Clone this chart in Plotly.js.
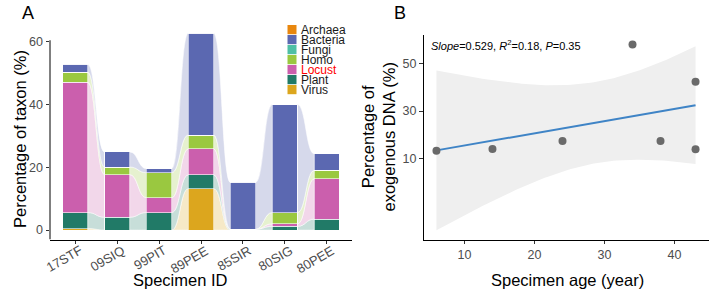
<!DOCTYPE html>
<html>
<head>
<meta charset="utf-8">
<script src="https://cdn.plot.ly/plotly-3.0.1.min.js"></script>
<style>
  html, body { margin: 0; padding: 0; background: #fff; }
  #chart { width: 711px; height: 294px; }
</style>
</head>
<body>
<div id="chart"></div>
<script>
// ---- Panel A: taxon composition per specimen (%) ----
const specimenIds = ['17STF', '09SIQ', '99PIT', '89PEE', '85SIR', '80SIG', '80PEE'];
const taxa = ['Archaea', 'Bacteria', 'Fungi', 'Homo', 'Locust', 'Plant', 'Virus'];
const archaea  = [0, 0, 0, 0, 0, 0, 0];
const bacteria = [2.5, 4.8, 1.3, 32.5, 14.9, 34.4, 5.3];
const fungi    = [0, 0, 0, 0, 0, 0, 0];
const homo     = [3.2, 2.4, 8.0, 4.4, 0, 3.6, 2.7];
const locust   = [41.5, 13.6, 4.7, 8.3, 0, 0.8, 12.8];
const plant    = [5.1, 4.1, 5.6, 4.4, 0.3, 1.2, 3.5];
const virus    = [0.5, 0, 0, 13.2, 0, 0, 0];

// ---- Panel B: exogenous DNA vs specimen age ----
const specimenAge = [6, 14, 24, 34, 38, 43, 43];
const exogenousPct = [13.2, 13.9, 17.3, 58.2, 17.3, 42.4, 13.8];
const statLabel = '<i>Slope</i>=0.529, <i>R</i><sup>2</sup>=0.18, <i>P</i>=0.35';

const taxonValues = {
  Archaea: archaea, Bacteria: bacteria, Fungi: fungi, Homo: homo,
  Locust: locust, Plant: plant, Virus: virus
};
const taxonColors = {
  Archaea: '#E8870E', Bacteria: '#5B68B1', Fungi: '#4FBFA5', Homo: '#9AC840',
  Locust: '#CB5FAD', Plant: '#217A67', Virus: '#DCA61E'
};
const W = 711, H = 294;
const px = v => v / W;
const py = v => 1 - v / H;

function rgba(hex, a) {
  const n = parseInt(hex.slice(1), 16);
  return `rgba(${(n >> 16) & 255},${(n >> 8) & 255},${n & 255},${a})`;
}

const FONT = 'Liberation Sans, Arial, sans-serif';
const BAR_W = 0.6;
const xIdx = specimenIds.map((_, i) => i);

// stacking order: last legend entry at the bottom
const stackOrder = taxa.slice().reverse();

const traces = [];
stackOrder.forEach(t => {
  traces.push({
    type: 'bar', x: xIdx, y: taxonValues[t], width: BAR_W,
    marker: { color: taxonColors[t], line: { color: '#ffffff', width: 0.6 } },
    xaxis: 'x', yaxis: 'y', showlegend: false, hoverinfo: 'skip', name: t
  });
});

// alluvial flows between neighbouring columns
const shapes = [];
const lower = {}, upper = {};
stackOrder.forEach(t => { lower[t] = []; upper[t] = []; });
xIdx.forEach(i => {
  let acc = 0;
  stackOrder.forEach(t => {
    lower[t].push(acc);
    acc += taxonValues[t][i];
    upper[t].push(acc);
  });
});
for (let i = 0; i < xIdx.length - 1; i++) {
  const xa = i + BAR_W / 2, xb = i + 1 - BAR_W / 2, xm = (xa + xb) / 2;
  stackOrder.forEach(t => {
    const l0 = lower[t][i], l1 = lower[t][i + 1];
    const u0 = upper[t][i], u1 = upper[t][i + 1];
    if (u0 - l0 <= 0 && u1 - l1 <= 0) return;
    const path = `M${xa},${l0} C${xm},${l0} ${xm},${l1} ${xb},${l1} ` +
                 `L${xb},${u1} C${xm},${u1} ${xm},${u0} ${xa},${u0} Z`;
    shapes.push({
      type: 'path', path: path, xref: 'x', yref: 'y', layer: 'below',
      fillcolor: rgba(taxonColors[t], 0.25),
      line: { color: 'rgba(255,255,255,0.9)', width: 0.6 }
    });
  });
}

// linear fit with 95% confidence band
const n = specimenAge.length;
const mx = specimenAge.reduce((a, b) => a + b, 0) / n;
const my = exogenousPct.reduce((a, b) => a + b, 0) / n;
let sxx = 0, sxy = 0;
for (let k = 0; k < n; k++) {
  sxx += (specimenAge[k] - mx) ** 2;
  sxy += (specimenAge[k] - mx) * (exogenousPct[k] - my);
}
const slope = sxy / sxx, intercept = my - slope * mx;
let sse = 0;
for (let k = 0; k < n; k++) {
  sse += (exogenousPct[k] - (intercept + slope * specimenAge[k])) ** 2;
}
const sigma = Math.sqrt(sse / (n - 2));
const tCrit = 2.5706; // t(0.975, df = 5)
const xMin = Math.min(...specimenAge), xMax = Math.max(...specimenAge);
const gridX = [], fitY = [], hiY = [], loY = [];
for (let k = 0; k < 80; k++) {
  const xv = xMin + (xMax - xMin) * k / 79;
  const yv = intercept + slope * xv;
  const se = sigma * Math.sqrt(1 / n + (xv - mx) ** 2 / sxx);
  gridX.push(xv); fitY.push(yv);
  hiY.push(yv + tCrit * se); loY.push(yv - tCrit * se);
}
traces.push({
  type: 'scatter', mode: 'lines', xaxis: 'x2', yaxis: 'y2',
  x: gridX.concat(gridX.slice().reverse()),
  y: hiY.concat(loY.slice().reverse()),
  fill: 'toself', fillcolor: '#EFEFEF', line: { width: 0 },
  showlegend: false, hoverinfo: 'skip'
});
traces.push({
  type: 'scatter', mode: 'lines', xaxis: 'x2', yaxis: 'y2',
  x: gridX, y: fitY, line: { color: '#3F84C6', width: 2 },
  showlegend: false, hoverinfo: 'skip'
});
traces.push({
  type: 'scatter', mode: 'markers', xaxis: 'x2', yaxis: 'y2',
  x: specimenAge, y: exogenousPct,
  marker: { color: '#6A6A6A', size: 8 },
  showlegend: false, hoverinfo: 'skip'
});

// left y axis line (stops just above the top tick)
shapes.push({
  type: 'line', xref: 'paper', yref: 'y', layer: 'above',
  x0: px(50), x1: px(50), y0: -3, y1: 60.5,
  line: { color: '#000', width: 1 }
});

const annotations = [];
// legend for panel A
taxa.forEach((t, k) => {
  const top = 25 + k * 10;
  shapes.push({
    type: 'rect', xref: 'paper', yref: 'paper', layer: 'above',
    x0: px(287.5), x1: px(296.5), y0: py(top), y1: py(top + 9.2),
    fillcolor: taxonColors[t], line: { width: 0 }
  });
  annotations.push({
    xref: 'paper', yref: 'paper', x: px(298.5), y: py(top + 4.8),
    xanchor: 'left', yanchor: 'middle', showarrow: false, text: t,
    font: { family: FONT, size: 12, color: t === 'Locust' ? '#FF0000' : '#1A1A1A' }
  });
});

// slanted specimen labels, right end hanging just past each tick
specimenIds.forEach((id, i) => {
  annotations.push({
    xref: 'x', yref: 'paper', x: i, y: py(240), xshift: 13,
    xanchor: 'right', yanchor: 'top', textangle: -30, showarrow: false,
    text: id, font: { family: FONT, size: 13, color: '#4D4D4D' }
  });
});

const titleFont = { family: FONT, size: 16.5, color: '#000' };
annotations.push(
  { xref: 'paper', yref: 'paper', x: px(28), y: py(13), text: 'A', showarrow: false,
    xanchor: 'center', yanchor: 'middle', font: { family: FONT, size: 18, color: '#000' } },
  { xref: 'paper', yref: 'paper', x: px(400), y: py(13), text: 'B', showarrow: false,
    xanchor: 'center', yanchor: 'middle', font: { family: FONT, size: 18, color: '#000' } },
  { xref: 'paper', yref: 'paper', x: px(20), y: py(139), text: 'Percentage of taxon (%)',
    textangle: -90, showarrow: false, xanchor: 'center', yanchor: 'middle', font: titleFont },
  { xref: 'paper', yref: 'paper', x: px(180), y: py(280), text: 'Specimen ID',
    showarrow: false, xanchor: 'center', yanchor: 'middle', font: titleFont },
  { xref: 'paper', yref: 'paper', x: px(377.5), y: py(137), text: 'Percentage of<br>exogenous DNA (%)',
    textangle: -90, showarrow: false, xanchor: 'center', yanchor: 'middle', font: titleFont },
  { xref: 'paper', yref: 'paper', x: px(567), y: py(280), text: 'Specimen age (year)',
    showarrow: false, xanchor: 'center', yanchor: 'middle', font: titleFont },
  { xref: 'paper', yref: 'paper', x: px(429), y: py(45), text: statLabel,
    showarrow: false, xanchor: 'left', yanchor: 'middle',
    font: { family: FONT, size: 11, color: '#000' } }
);

const tickFont = { family: FONT, size: 12.5, color: '#4D4D4D' };
const axisCommon = {
  showgrid: false, zeroline: false, ticks: 'outside', ticklen: 3.5,
  tickcolor: '#333', tickwidth: 1, tickfont: tickFont, fixedrange: true
};

const layout = {
  width: W, height: H,
  margin: { l: 0, r: 0, t: 0, b: 0 },
  paper_bgcolor: '#fff', plot_bgcolor: 'rgba(0,0,0,0)',
  barmode: 'stack', bargap: 0,
  showlegend: false,
  xaxis: Object.assign({}, axisCommon, {
    domain: [px(50), px(352)], range: [-0.6, 6.6],
    tickvals: xIdx, showticklabels: false,
    showline: true, linecolor: '#000', linewidth: 1, anchor: 'y'
  }),
  yaxis: Object.assign({}, axisCommon, {
    domain: [py(239.5), py(23)], range: [-3, 66],
    tickvals: [0, 20, 40, 60], showline: false, anchor: 'x'
  }),
  xaxis2: Object.assign({}, axisCommon, {
    domain: [px(423.5), px(708.5)], range: [4.15, 44.85],
    tickvals: [10, 20, 30, 40],
    showline: true, linecolor: '#000', linewidth: 1, anchor: 'y2'
  }),
  yaxis2: Object.assign({}, axisCommon, {
    domain: [py(239.5), py(35)], range: [-24.4, 62.2],
    tickvals: [10, 30, 50],
    showline: true, linecolor: '#000', linewidth: 1, anchor: 'x2'
  }),
  shapes: shapes,
  annotations: annotations
};

Plotly.newPlot('chart', traces, layout, { staticPlot: true, displayModeBar: false });
</script>
</body>
</html>
